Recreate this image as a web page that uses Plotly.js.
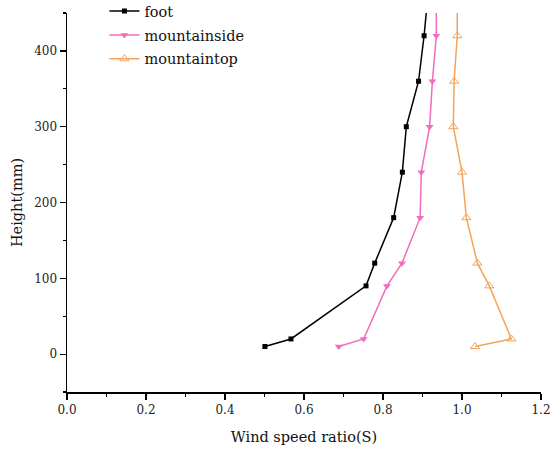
<!DOCTYPE html>
<html><head><meta charset="utf-8">
<script src="https://cdn.plot.ly/plotly-3.0.1.min.js"></script>
<style>html,body{margin:0;padding:0;background:#fff}</style>
</head><body>
<div id="chart" style="width:552px;height:452px"></div>
<script>
const heights = [10, 20, 90, 120, 180, 240, 300, 360, 420, 480];
const footRatio = [0.501, 0.567, 0.757, 0.779, 0.827, 0.849, 0.859, 0.890, 0.904, 0.915];
const mountainsideRatio = [0.688, 0.751, 0.810, 0.848, 0.894, 0.897, 0.918, 0.925, 0.935, 0.935];
const mountaintopRatio = [1.033, 1.125, 1.069, 1.039, 1.011, 1.000, 0.978, 0.980, 0.988, 0.988];
const seriesNames = ["foot", "mountainside", "mountaintop"];

const font = "DejaVu Serif";
const traces = [
  {x: footRatio, y: heights, name: seriesNames[0], legendgroup: "a", mode: "lines+markers",
   line: {color: "#000000", width: 1.5}, marker: {symbol: "square", size: 5, color: "#000000"}},
  {x: mountainsideRatio, y: heights, name: seriesNames[1], legendgroup: "b", mode: "lines+markers",
   line: {color: "#f26bbf", width: 1.5}, marker: {symbol: "triangle-down", size: 7, color: "#f26bbf"}},
  {x: mountaintopRatio, y: heights, name: seriesNames[2], legendgroup: "c", mode: "lines+markers",
   line: {color: "#f4a35c", width: 1.5}, marker: {symbol: "triangle-up-open", size: 8, color: "#f4a35c", line: {width: 1}}}
];
const layout = {
  width: 552, height: 452,
  margin: {l: 67, r: 11, t: 13, b: 60, autoexpand: false},
  paper_bgcolor: "#fff", plot_bgcolor: "#fff",
  font: {family: font, size: 12, color: "#222"},
  showlegend: true,
  legend: {x: 0.079, y: 1.047, xanchor: "left", yanchor: "top", bgcolor: "rgba(0,0,0,0)",
           font: {family: font, size: 14.5, color: "#111"}, tracegroupgap: 2},
  xaxis: {range: [0, 1.2], dtick: 0.2, tickformat: ".1f", showgrid: false, zeroline: false,
          showline: true, linecolor: "#000", linewidth: 1.5, ticks: "outside", ticklen: 6, tickwidth: 1.2, tickcolor: "#000",
          minor: {dtick: 0.1, ticks: "outside", ticklen: 3, tickcolor: "#000", tickwidth: 1.2},
          title: {text: "Wind speed ratio(S)", font: {family: font, size: 14.5, color: "#111"}, standoff: 16}},
  yaxis: {range: [-50, 450], dtick: 100, tick0: 0, showgrid: false, zeroline: false,
          showline: true, linecolor: "#000", linewidth: 1.5, ticks: "outside", ticklen: 6, tickwidth: 1.2, tickcolor: "#000",
          minor: {dtick: 50, ticks: "outside", ticklen: 3, tickcolor: "#000", tickwidth: 1.2},
          title: {text: "Height(mm)", font: {family: font, size: 14.5, color: "#111"}, standoff: 8}}
};
Plotly.newPlot("chart", traces, layout, {displayModeBar: false, staticPlot: true});
</script>
</body></html>
